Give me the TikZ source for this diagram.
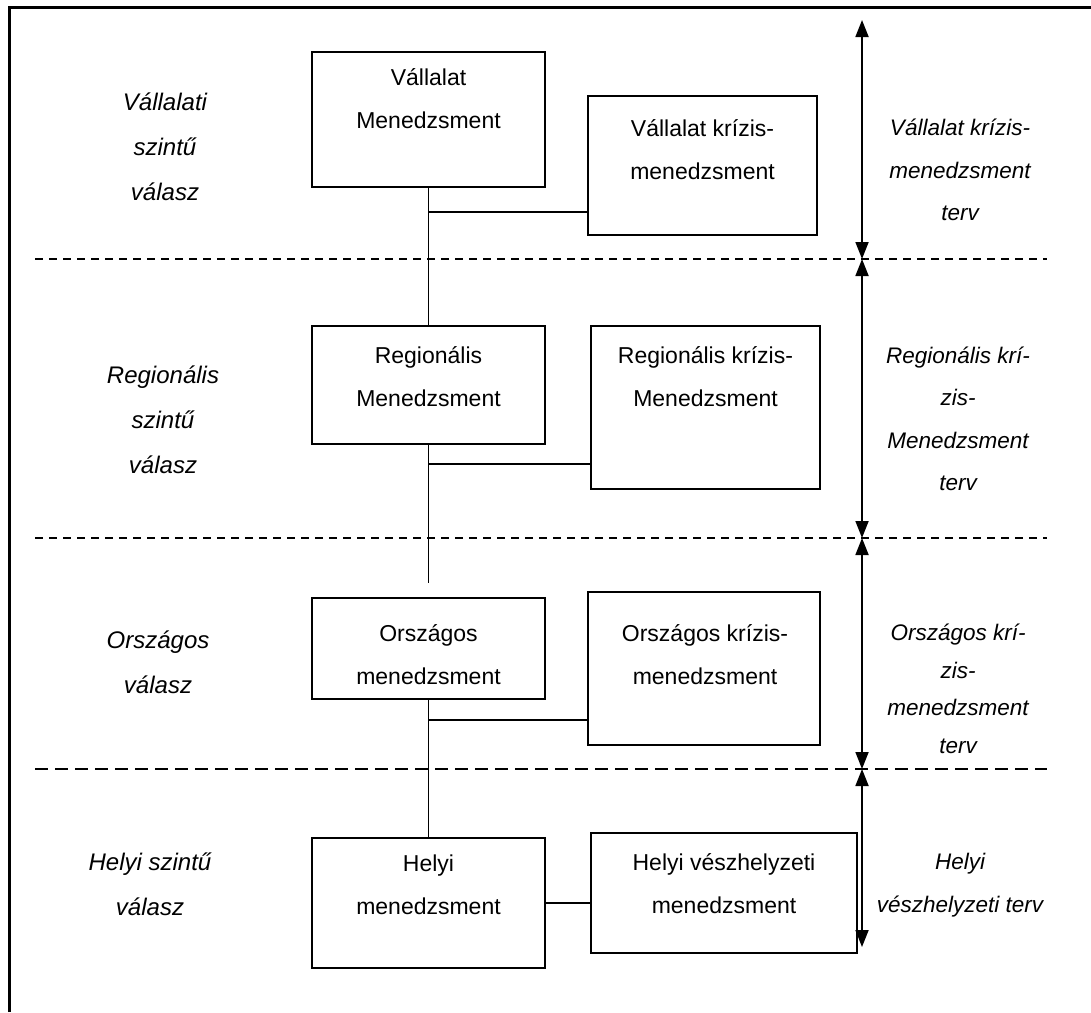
\documentclass[tikz,border=0pt]{standalone}
\usepackage{fontspec}
\setmainfont{Liberation Sans}
\usetikzlibrary{arrows.meta}
\begin{document}
\begin{tikzpicture}[x=1pt,y=-1pt,
  mbox/.style={draw,line width=2pt,inner sep=0pt},
  btext/.style={align=center,font=\fontsize{23}{43}\selectfont},
  lvl/.style={align=center,font=\fontsize{24}{45}\selectfont\itshape},
  plan/.style={align=center,font=\fontsize{22.5}{42.5}\selectfont\itshape},
  plantight/.style={align=center,font=\fontsize{22.5}{37.5}\selectfont\itshape},
  wire/.style={line width=1.8pt},
  sep/.style={line width=2pt,dash pattern=on 8pt off 6pt},
  sepwide/.style={line width=2pt,dash pattern=on 13pt off 7pt},
  span/.style={line width=1.8pt,{Triangle[length=17pt,width=13pt]}-{Triangle[length=17pt,width=13pt]}}]
\useasboundingbox (0,0) rectangle (1091,1012);

% outer frame (top and left edges only)
\draw[line width=3pt] (9,1012) -- (9,7) -- (1091,7);

% management boxes
\node[mbox,minimum width=233pt,minimum height=135pt] (b1) at (428.5,119.5) {};
\node[mbox,minimum width=229pt,minimum height=139pt] (b2) at (702.5,165.5) {};
\node[mbox,minimum width=233pt,minimum height=118pt] (r1) at (428.5,385) {};
\node[mbox,minimum width=229pt,minimum height=163pt] (r2) at (705.5,407.5) {};
\node[mbox,minimum width=233pt,minimum height=101pt] (o1) at (428.5,648) {};
\node[mbox,minimum width=232pt,minimum height=153pt] (o2) at (704,668.5) {};
\node[mbox,minimum width=233pt,minimum height=130pt] (h1) at (428.5,903) {};
\node[mbox,minimum width=266pt,minimum height=120pt] (h2) at (724,893) {};

% box texts
\node[btext] (t1) at (428.5,98.5) {Vállalat\\Menedzsment};
\node[btext] (t2) at (702.5,150) {Vállalat krízis-\\menedzsment};
\node[btext] (t3) at (428.5,376.5) {Regionális\\Menedzsment};
\node[btext] (t4) at (705.5,376.5) {Regionális krízis-\\Menedzsment};
\node[btext] (t5) at (428.5,654.5) {Országos\\menedzsment};
\node[btext] (t6) at (705,654.5) {Országos krízis-\\menedzsment};
\node[btext] (t7) at (428.5,884.5) {Helyi\\menedzsment};
\node[btext] (t8) at (724,884) {Helyi vészhelyzeti\\menedzsment};

% level names on the left
\node[lvl] (l1) at (165,147) {Vállalati\\szintű\\válasz};
\node[lvl] (l2) at (163,420) {Regionális\\szintű\\válasz};
\node[lvl] (l3) at (158,662) {Országos\\válasz};
\node[lvl] (l4) at (150,884.5) {Helyi szintű\\válasz};

% plan names on the right
\node[plan] (p1) at (960,170) {Vállalat krízis-\\menedzsment\\terv};
\node[plan] (p2) at (958,419) {Regionális krí-\\zis-\\Menedzsment\\terv};
\node[plantight] (p3) at (958,689) {Országos krí-\\zis-\\menedzsment\\terv};
\node[plan] (p4) at (960,885) {Helyi\\vészhelyzeti terv};

% level separators
\coordinate (s1a) at (35,259);  \coordinate (s1b) at (1047,259);
\coordinate (s2a) at (35,538);  \coordinate (s2b) at (1047,538);
\coordinate (s3a) at (35,769);  \coordinate (s3b) at (1047,769);
\draw[sep] (s1a) -- (s1b);
\draw[sep] (s2a) -- (s2b);
\draw[sepwide] (s3a) -- (s3b);

% spine and branches
\coordinate (spineEnd) at (428.5,583);
\coordinate (j1) at (588,212);
\coordinate (j2) at (591,464);
\coordinate (j3) at (588,720);
\coordinate (j4) at (591,903);
\draw[wire] (b1.south) -- (r1.north);
\draw[wire] (r1.south) -- (spineEnd);
\draw[wire] (o1.south) -- (h1.north);
\draw[wire] (b1.south |- j1) -- (j1);
\draw[wire] (r1.south |- j2) -- (j2);
\draw[wire] (o1.south |- j3) -- (j3);
\draw[wire] (h1.east |- j4) -- (j4);

% extent arrows
\coordinate (a0) at (862,20);
\coordinate (a1) at (862,259);
\coordinate (a2) at (862,538);
\coordinate (a3) at (862,769);
\coordinate (a4) at (862,947);
\draw[span] (a0) -- (a1);
\draw[span] (a1) -- (a2);
\draw[span] (a2) -- (a3);
\draw[span] (a3) -- (a4);
\end{tikzpicture}
\end{document}
